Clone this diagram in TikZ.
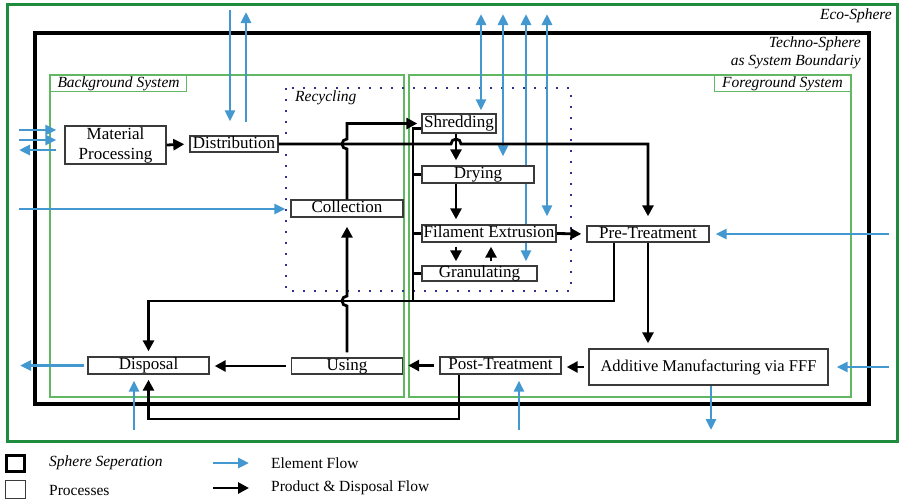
\documentclass[tikz,border=0pt]{standalone}
\usepackage{fontspec}
\setmainfont{Liberation Serif}
\usepackage{xcolor}
\definecolor{ecogreen}{HTML}{1E8C3C}
\definecolor{sysgreen}{HTML}{62B862}
\definecolor{recblue}{HTML}{2E3092}
\definecolor{flowblue}{HTML}{4398CF}
\definecolor{boxgray}{HTML}{3A3A3A}
\usepackage{tikz}
\usetikzlibrary{arrows.meta,calc}
\pgfdeclarelayer{back}
\pgfsetlayers{back,main}
\tikzset{
  base/.style={draw=boxgray, line width=1.4pt, fill=white, inner sep=0pt, font=\fontsize{17}{20}\selectfont},
  proc/.style={base, text height=11.5pt, text depth=3.5pt},
  tag/.style={font=\fontsize{15.5}{18.5}\selectfont\itshape, inner sep=0pt},
  key/.style={font=\fontsize{15.5}{18.5}\selectfont, inner sep=0pt},
  sysbox/.style={draw=sysgreen, line width=1.1pt},
  pflow/.style={-{Triangle[length=11pt,width=11pt]}, line width=2.8pt, shorten >=5pt},
  eflow/.style={-{Triangle[length=11pt,width=10pt]}, flowblue, line width=2.8pt},
  eflow2/.style={eflow, {Triangle[length=11pt,width=10pt]}-{Triangle[length=11pt,width=10pt]}},
  bus/.style={line width=2.8pt},
}
\begin{document}
\begin{tikzpicture}[x=1pt, y=-1pt]
  \useasboundingbox (0,0) rectangle (899,499);
  % spheres and system borders
  \begin{pgfonlayer}{back}
    \draw[ecogreen, line width=3pt] (7,4) rectangle (897,441);
    \draw[line width=3.3pt] (35,33) rectangle (869,404);
    \draw[sysbox] (50,75) rectangle (404,397);
    \draw[sysbox] (409,75) rectangle (851,397);
    \draw[recblue, line width=2.2pt, dash pattern=on 2.2pt off 8.8pt] (286,88) rectangle (571,291);
  \end{pgfonlayer}
  \node[tag, anchor=east] (eco) at (892,16) {Eco-Sphere};
  \node[tag, anchor=east, align=right] (techno) at (861,53) {Techno-Sphere\\as System Boundariy};
  \node[tag, sysbox, anchor=north west, minimum width=136pt, minimum height=16pt] (bg) at (50,75) {Background System};
  \node[tag, sysbox, anchor=north east, minimum width=136pt, minimum height=16pt] (fg) at (851,75) {Foreground System};
  \node[tag, anchor=west] (rec) at (295,98) {Recycling};

  % processes
  \node[base, minimum width=101pt, minimum height=38pt, align=center] (mat) at (115.5,145) {Material\\Processing};
  \node[proc, minimum width=88pt, minimum height=16pt] (dist) at (234,144) {Distribution};
  \node[proc, minimum width=112pt, minimum height=17pt] (coll) at (347,208.5) {Collection};
  \node[proc, minimum width=74pt, minimum height=19pt] (shred) at (459,123.5) {Shredding};
  \node[proc, minimum width=112pt, minimum height=17pt] (dry) at (478,174.5) {Drying};
  \node[proc, minimum width=134pt, minimum height=17pt] (ext) at (489,233.5) {Filament Extrusion};
  \node[proc, minimum width=115pt, minimum height=15pt] (gran) at (479.5,273.5) {Granulating};
  \node[proc, minimum width=122pt, minimum height=16pt] (pre) at (648,234) {Pre-Treatment};
  \node[proc, minimum width=239pt, minimum height=36pt, font=\fontsize{16.5}{20}\selectfont] (am) at (708.5,367) {Additive Manufacturing via FFF};
  \node[proc, minimum width=121pt, minimum height=17pt] (post) at (500.5,365.5) {Post-Treatment};
  \node[proc, minimum width=111pt, minimum height=16pt] (use) at (347,366) {Using};
  \node[proc, minimum width=121pt, minimum height=17pt] (disp) at (148.5,365.5) {Disposal};

  \coordinate (spine) at (456,0);
  \coordinate (back) at (491,0);
  \coordinate (bus) at (413,301);
  \coordinate (rej) at (614,301);
  \coordinate (ret) at (459,419);

  % product and disposal flow
  \draw[pflow] (mat.east) -- (dist.west);
  \draw[pflow, shorten >=9pt] (dist.east) -- ($(dist.east -| spine)-(5,0)$) arc[start angle=180, end angle=360, radius=5] -| (pre.north);
  \draw[pflow, shorten >=4pt] (coll.north) -- ($(coll.north |- dist.east)+(0,5)$) arc[start angle=90, end angle=270, radius=5] |- (shred.west);
  \draw[pflow] (shred.south -| spine) -- (dry.north -| spine);
  \draw[pflow] (dry.south -| spine) -- (ext.north -| spine);
  \draw[pflow, shorten <=4pt, shorten >=4pt] (ext.south -| spine) -- (gran.north -| spine);
  \draw[pflow, shorten <=4pt, shorten >=4pt] (gran.north -| back) -- (ext.south -| back);
  \draw[pflow] (ext.east) -- (pre.west);
  \draw[pflow] (pre.south) -- (pre.south |- am.north);
  \draw[pflow, shorten <=4pt] (am.west) -- (am.west -| post.east);
  \draw[pflow, shorten <=5pt] (post.west) -- (post.west -| use.east);
  \draw[pflow, shorten <=5pt] (use.west) -- (use.west -| disp.east);
  \draw[pflow, shorten <=5pt, shorten >=9pt] (use.north) -- ($(use.north |- bus)+(0,5)$) arc[start angle=90, end angle=270, radius=5] -- (coll.south);
  \draw[pflow] (pre.south -| rej) -- (rej) -| (disp.north);
  \draw[bus] ([yshift=-5pt]shred.west) -| (bus);
  \foreach \n in {dry,ext,gran}
    \draw[bus] (\n.west) -- (\n.west -| bus);
  \draw[pflow] (post.south -| ret) -- (ret) -| (disp.south);

  % element flow
  \coordinate (m1) at (19,130);
  \coordinate (m2) at (19,140);
  \coordinate (m3) at (19,150);
  \coordinate (d1) at (230,10);
  \coordinate (d2) at (246,12);
  \coordinate (c1) at (19,209);
  \coordinate (t1) at (481,14);
  \coordinate (t2) at (503,14);
  \coordinate (t3) at (526,14);
  \coordinate (t4) at (547,14);
  \coordinate (p1) at (889,234);
  \coordinate (a1) at (889,367);
  \coordinate (a2) at (711,430);
  \coordinate (o1) at (519,430);
  \coordinate (x1) at (134,430);
  \coordinate (x2) at (20,366);
  \begin{pgfonlayer}{back}
    \draw[eflow, shorten >=8pt] (m1) -- (m1 -| mat.west);
    \draw[eflow, shorten >=8pt] (m2) -- (m2 -| mat.west);
    \draw[eflow, shorten <=8pt] (m3 -| mat.west) -- (m3);
    \draw[eflow, shorten >=14pt] (d1) -- (d1 |- dist.north);
    \draw[eflow, shorten <=13pt] (d2 |- dist.north) -- (d2);
    \draw[eflow, shorten >=5pt] (c1) -- (c1 -| coll.west);
    \draw[eflow2, shorten >=3pt] (t1) -- (t1 |- shred.north);
    \draw[eflow2, shorten >=9pt] (t2) -- (t2 |- dry.north);
    \draw[eflow2, shorten >=4pt] (t3) -- (t3 |- gran.north);
    \draw[eflow2, shorten >=8pt] (t4) -- (t4 |- ext.north);
    \draw[eflow, shorten >=6pt] (p1) -- (pre.east);
    \draw[eflow, shorten >=8pt] (a1) -- (am.east);
    \draw[eflow] (a2 |- am.south) -- (a2);
    \draw[eflow, shorten >=6pt] (o1) -- (o1 |- post.south);
    \draw[eflow, shorten >=6pt] (x1) -- (x1 |- disp.south);
    \draw[eflow, shorten <=3pt] (disp.west) -- (disp.west -| x2);
  \end{pgfonlayer}

  % legend
  \node[draw, line width=2.8pt, minimum width=18pt, minimum height=16pt, inner sep=0pt] (keysph) at (15.5,463.5) {};
  \node[draw=boxgray, line width=1pt, minimum width=20pt, minimum height=18pt, inner sep=0pt] (keyproc) at (15,489) {};
  \node[key, anchor=west] (keysphtxt) at (49,463) {\itshape Sphere Seperation};
  \node[key, anchor=west] (keyproctxt) at (49,490) {Processes};
  \coordinate (ke1) at (213,463);
  \coordinate (ke2) at (249,463);
  \coordinate (kp1) at (213,488);
  \coordinate (kp2) at (249,488);
  \draw[eflow] (ke1) -- (ke2);
  \draw[pflow, shorten >=0pt] (kp1) -- (kp2);
  \node[key, anchor=west] (keyetxt) at (271,463) {Element Flow};
  \node[key, anchor=west] (keyptxt) at (271,488) {Product \& Disposal Flow};
\end{tikzpicture}
\end{document}
